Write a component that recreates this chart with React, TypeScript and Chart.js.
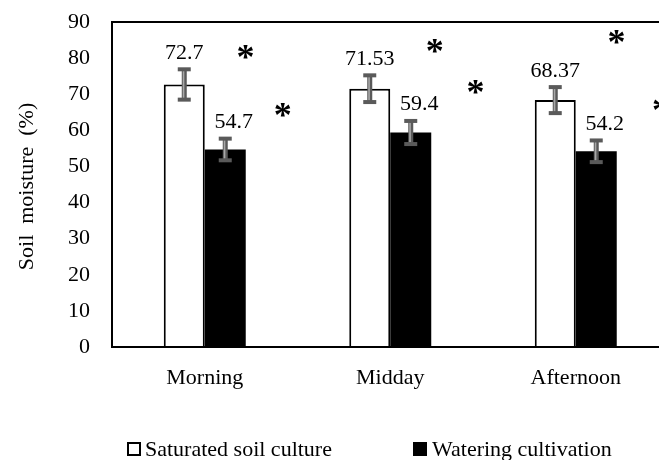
import React, { useEffect, useRef } from "react";
import { Chart, registerables } from "chart.js";

Chart.register(...registerables);

// ---- data ----
const categories = ["Morning", "Midday", "Afternoon"];
const seriesNames = ["Saturated soil culture", "Watering cultivation"];
const saturatedValues = [72.7, 71.53, 68.37];
const saturatedErrors = [4.2, 3.7, 3.6];
const wateringValues = [54.7, 59.4, 54.2];
const wateringErrors = [3.0, 3.2, 3.0];
const yTicks = [0, 10, 20, 30, 40, 50, 60, 70, 80, 90];
const yTitle = "Soil  moisture  (%)";
// significance markers: position along the category axis (index units) and value
const starPositions = [0.22, 0.42, 1.24, 1.46, 2.22, 2.46];
const starValues = [81.4, 65.1, 82.8, 71.7, 85.3, 66.5];

const FONT = "'Liberation Serif', 'Times New Roman', serif";

const overlayPlugin = {
  id: "overlay",
  afterDatasetsDraw(chart: any) {
    const ctx: CanvasRenderingContext2D = chart.ctx;
    const yScale = chart.scales.y;
    const xScale = chart.scales.x;
    const area = chart.chartArea;
    const errors = [saturatedErrors, wateringErrors];
    const values = [saturatedValues, wateringValues];

    ctx.save();

    // error bars
    errors.forEach((errs, di) => {
      const meta = chart.getDatasetMeta(di);
      meta.data.forEach((bar: any, i: number) => {
        const v = values[di][i];
        const top = yScale.getPixelForValue(v + errs[i]);
        const bot = yScale.getPixelForValue(v - errs[i]);
        const cx = bar.x;
        ctx.fillStyle = "#5a5a5a";
        ctx.fillRect(cx - 2.5, top, 5, bot - top);
        ctx.fillRect(cx - 6.5, top - 2, 13, 4);
        ctx.fillRect(cx - 6.5, bot - 2, 13, 4);
        ctx.fillStyle = "#a8a8a8";
        ctx.fillRect(cx - 1.5, top + 2, 1.6, bot - top - 4);
      });
    });

    // value labels
    ctx.fillStyle = "#000";
    ctx.font = `22px ${FONT}`;
    ctx.textAlign = "center";
    ctx.textBaseline = "alphabetic";
    values.forEach((vals, di) => {
      const meta = chart.getDatasetMeta(di);
      meta.data.forEach((bar: any, i: number) => {
        const top = yScale.getPixelForValue(vals[i] + errors[di][i]);
        const dx = di === 1 ? 8.5 : 0;
        ctx.fillText(String(vals[i]), bar.x + dx, top - 10.5);
      });
    });

    // significance markers
    ctx.font = `bold 36px ${FONT}`;
    ctx.textBaseline = "middle";
    starPositions.forEach((p, i) => {
      ctx.fillText("*", xScale.getPixelForValue(p), yScale.getPixelForValue(starValues[i]) + 6.2);
    });

    // plot frame
    ctx.strokeStyle = "#000";
    ctx.lineWidth = 2;
    ctx.strokeRect(area.left, area.top, area.right - area.left, area.bottom - area.top);

    // y-axis title
    ctx.save();
    ctx.font = `22px ${FONT}`;
    ctx.textAlign = "center";
    ctx.textBaseline = "alphabetic";
    ctx.translate(33, (area.top + area.bottom) / 2 + 2);
    ctx.rotate(-Math.PI / 2);
    ctx.fillText(yTitle, 0, 0);
    ctx.restore();

    // legend
    ctx.font = `22px ${FONT}`;
    ctx.textAlign = "left";
    ctx.textBaseline = "alphabetic";
    ctx.lineWidth = 2;
    ctx.strokeStyle = "#000";
    ctx.fillStyle = "#fff";
    ctx.fillRect(128, 443, 12, 12);
    ctx.strokeRect(128, 443, 12, 12);
    ctx.fillStyle = "#000";
    ctx.fillText(seriesNames[0], 145, 456);
    ctx.fillRect(413, 442, 14, 14);
    ctx.fillText(seriesNames[1], 432, 456);

    ctx.restore();
  },
};

export default function App() {
  const canvasRef = useRef<HTMLCanvasElement | null>(null);

  useEffect(() => {
    if (!canvasRef.current) return;
    Chart.defaults.font.family = FONT;
    Chart.defaults.font.size = 22;
    Chart.defaults.color = "#000";

    const chart = new Chart(canvasRef.current, {
      type: "bar",
      data: {
        labels: categories,
        datasets: [
          {
            label: seriesNames[0],
            data: saturatedValues,
            backgroundColor: "#ffffff",
            borderColor: "#000000",
            borderWidth: 2,
            borderSkipped: "bottom",
            categoryPercentage: 0.442,
            barPercentage: 1,
          },
          {
            label: seriesNames[1],
            data: wateringValues,
            backgroundColor: "#000000",
            borderWidth: 0,
            categoryPercentage: 0.442,
            barPercentage: 1,
          },
        ],
      },
      options: {
        responsive: false,
        animation: false,
        layout: { padding: { top: 22, right: 11.5, bottom: 0, left: 0 } },
        plugins: { legend: { display: false }, tooltip: { enabled: false } },
        scales: {
          x: {
            grid: { display: false, drawTicks: false },
            border: { display: false },
            ticks: { padding: 18, color: "#000", font: { size: 22, family: FONT } },
            afterFit: (s: any) => {
              s.height = 113;
            },
          },
          y: {
            min: 0,
            max: 90,
            grid: { display: false, drawTicks: false },
            border: { display: false },
            ticks: { padding: 22, color: "#000", font: { size: 22, family: FONT } },
            afterBuildTicks: (s: any) => {
              s.ticks = yTicks.map((v) => ({ value: v }));
            },
            afterFit: (s: any) => {
              s.width = 112;
              s.paddingTop = 0;
              s.paddingBottom = 0;
            },
          },
        },
      },
      plugins: [overlayPlugin],
    });
    return () => chart.destroy();
  }, []);

  return (
    <div
      style={{
        position: "fixed",
        left: 0,
        top: 0,
        width: 659,
        height: 460,
        overflow: "hidden",
        background: "#fff",
      }}
    >
      <canvas ref={canvasRef} width={680} height={460} style={{ display: "block", width: 680, height: 460 }} />
    </div>
  );
}
